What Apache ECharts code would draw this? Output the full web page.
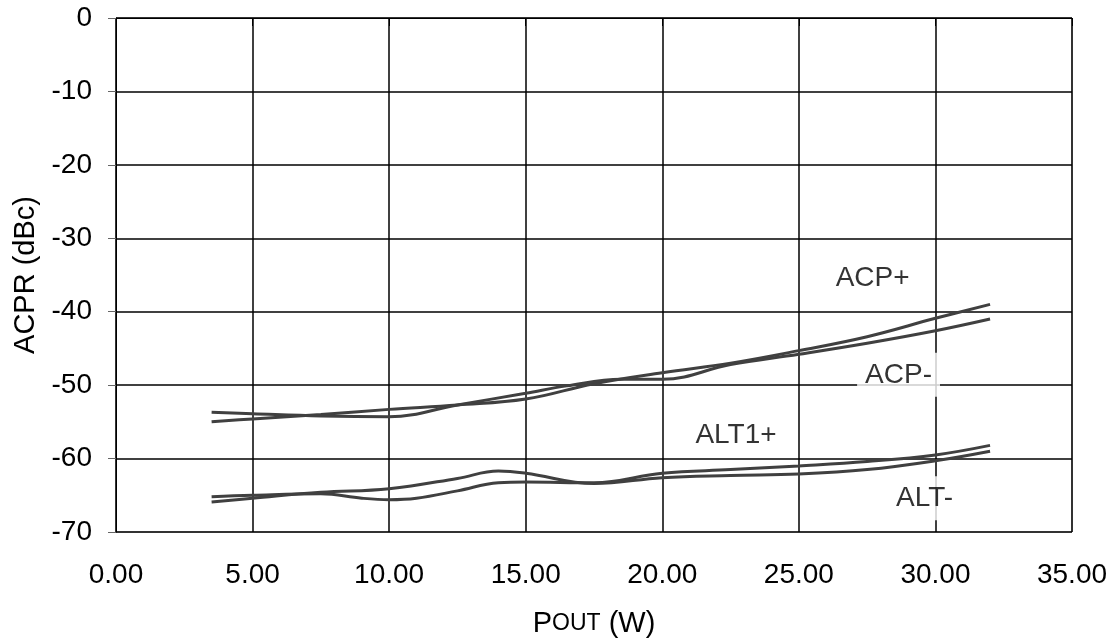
<!DOCTYPE html>
<html>
<head>
<meta charset="utf-8">
<script src="https://cdn.jsdelivr.net/npm/echarts@6/dist/echarts.min.js"></script>
<style>html,body{margin:0;padding:0;background:#fff}#c{width:1114px;height:641px}</style>
</head>
<body>
<div id="c"></div>
<script>
// POUT (W) sample points and ACPR (dBc) values
const acpPlus = [[3.5,-55.0],[5,-54.6],[7.5,-54.0],[10,-53.3],[12.5,-52.7],[15,-51.9],[17.5,-49.8],[20,-48.3],[22.5,-47.0],[25,-45.3],[27.5,-43.4],[30,-40.9],[32,-39.0]];
const acpMinus = [[3.5,-53.7],[5,-53.9],[7.5,-54.2],[10,-54.3],[12.5,-52.7],[15,-51.1],[16.5,-50.1],[18.5,-49.2],[20,-49.2],[22.5,-47.2],[25,-45.8],[27.5,-44.3],[30,-42.6],[32,-41.0]];
const alt1Plus = [[3.5,-65.2],[5,-65.0],[7.5,-64.8],[9,-65.4],[10,-65.6],[11,-65.4],[12.5,-64.4],[14,-63.3],[15,-63.2],[17.5,-63.3],[20,-62.0],[22.5,-61.5],[25,-61.0],[27.5,-60.4],[30,-59.5],[32,-58.2]];
const altMinus = [[3.5,-65.9],[5,-65.4],[7.5,-64.6],[10,-64.1],[12.5,-62.7],[14,-61.7],[15,-62.0],[17.5,-63.4],[20,-62.6],[22.5,-62.3],[25,-62.1],[27.5,-61.5],[30,-60.3],[32,-59.0]];
const labelTexts = ['ACP+','ACP-','ALT1+','ALT-'];
const labelAt = [[27.7,-35.5],[28.65,-48.6],[22.7,-56.8],[29.6,-65.4]];
const labelBg = [null,'#fff',null,'#fff'];
const xTicks = {min:0,max:35,interval:5};
const yTicks = {min:-70,max:0,interval:10};

const chart = echarts.init(document.getElementById('c'));
const lineColor = '#404040';
const FONT = 'Liberation Sans, Arial, Helvetica, sans-serif';
function lineSeries(name, data){
  return {name, type:'line', data, smooth:0.4, showSymbol:false, symbol:'none',
    lineStyle:{color:lineColor,width:3}, z:3, silent:true};
}
chart.setOption({
  animation:false,
  grid:{left:116,right:42,top:18,bottom:109,containLabel:false,outerBoundsMode:'none',
    show:true,borderColor:'#999',borderWidth:1},
  xAxis:{type:'value',min:xTicks.min,max:xTicks.max,interval:xTicks.interval,
    name:'{p|P}{o|OUT}{p| (W)}',nameLocation:'middle',nameGap:77,
    nameTextStyle:{rich:{p:{fontSize:29,fontFamily:FONT,color:'#000'},o:{fontSize:23,fontFamily:FONT,color:'#000'}}},
    axisLine:{show:true,lineStyle:{color:'#000',width:1}},
    axisTick:{show:true,length:8,lineStyle:{color:'#000'}},
    axisLabel:{fontSize:28,fontFamily:FONT,color:'#000',margin:29,formatter:v=>v.toFixed(2)},
    splitLine:{show:true,lineStyle:{color:'#000',width:1.5}}},
  yAxis:{type:'value',min:yTicks.min,max:yTicks.max,interval:yTicks.interval,
    name:'ACPR (dBc)',nameLocation:'middle',nameGap:72,
    nameTextStyle:{fontSize:29,fontFamily:FONT,color:'#000'},
    axisLine:{show:true,lineStyle:{color:'#000',width:1}},
    axisTick:{show:true,length:8,lineStyle:{color:'#666'}},
    axisLabel:{fontSize:28,fontFamily:FONT,color:'#000',margin:24},
    splitLine:{show:true,lineStyle:{color:'#000',width:1.5}}},
  series:[
    lineSeries('ACP+',acpPlus),
    lineSeries('ACP-',acpMinus),
    lineSeries('ALT1+',alt1Plus),
    lineSeries('ALT-',altMinus),
    {type:'scatter',symbolSize:0,z:5,silent:true,
     data:labelAt.map((p,i)=>({value:p,label:{show:true,position:'inside',formatter:labelTexts[i],
       fontSize:28,fontFamily:FONT,color:'#000',
       backgroundColor:labelBg[i]||'transparent',padding:labelBg[i]?[8,8]:0}}))}
  ]
});
</script>
</body>
</html>
